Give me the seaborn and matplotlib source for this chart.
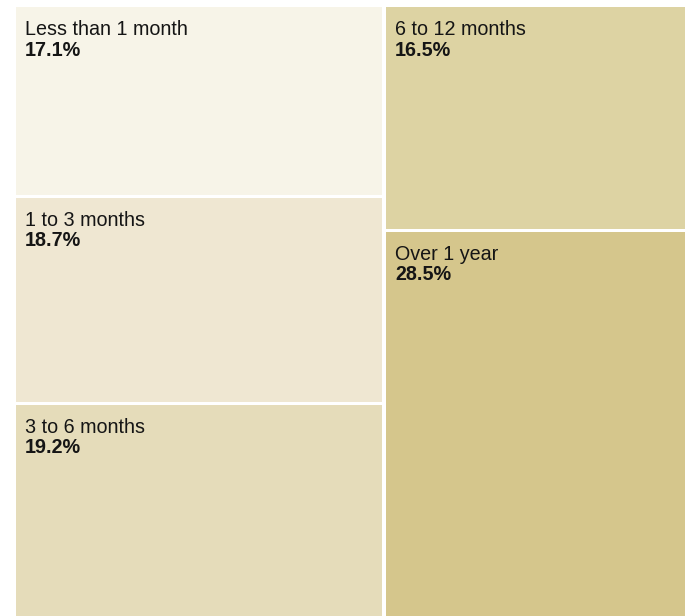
import matplotlib
matplotlib.use("Agg")
import matplotlib.pyplot as plt
import seaborn as sns
from matplotlib.patches import Rectangle

# Duration shares, grouped into the two treemap columns
categories = ["Less than 1 month", "1 to 3 months", "3 to 6 months", "6 to 12 months", "Over 1 year"]
shares = [17.1, 18.7, 19.2, 16.5, 28.5]
column = [0, 0, 0, 1, 1]
colors = ["#F7F4E8", "#EFE7D2", "#E5DCBA", "#DDD3A3", "#D5C68C"]

sns.set_theme(style="white")
plt.rcParams["font.family"] = ["Liberation Sans", "DejaVu Sans"]

W, H = 691, 616
fig = plt.figure(figsize=(W / 100, H / 100), dpi=100)
# plot area in pixels: x 16..685, y 7..616
left, top, pw, ph = 16, 7, 669, 609
ax = fig.add_axes([left / W, (H - top - ph) / H, pw / W, ph / H])
ax.set_xlim(0, pw)
ax.set_ylim(ph, 0)
ax.axis("off")

total = sum(shares)
col_ids = sorted(set(column))
col_tot = {c: sum(s for s, k in zip(shares, column) if k == c) for c in col_ids}
gap_x, gap_y = 4.0, 2.5

x0 = 0.0
for c in col_ids:
    cw = pw * col_tot[c] / total
    y0 = 0.0
    members = [i for i, k in enumerate(column) if k == c]
    for j, i in enumerate(members):
        rh = ph * shares[i] / col_tot[c]
        xa = x0 + (gap_x / 2 if c != col_ids[0] else 0)
        xb = x0 + cw - (gap_x / 2 if c != col_ids[-1] else 0)
        ya = y0 + (gap_y / 2 if j > 0 else 0)
        yb = y0 + rh - (gap_y / 2 if j < len(members) - 1 else 0)
        ax.add_patch(Rectangle((xa, ya), xb - xa, yb - ya, facecolor=colors[i],
                               edgecolor="none"))
        ax.text(xa + 9, ya + 28, categories[i], fontsize=14.2, color="#151515",
                va="baseline", ha="left")
        ax.text(xa + 9, ya + 48.5, f"{shares[i]:.1f}%", fontsize=14.2, color="#151515",
                fontweight="bold", va="baseline", ha="left")
        y0 += rh
    x0 += cw

fig.savefig("out.png", dpi=100)
